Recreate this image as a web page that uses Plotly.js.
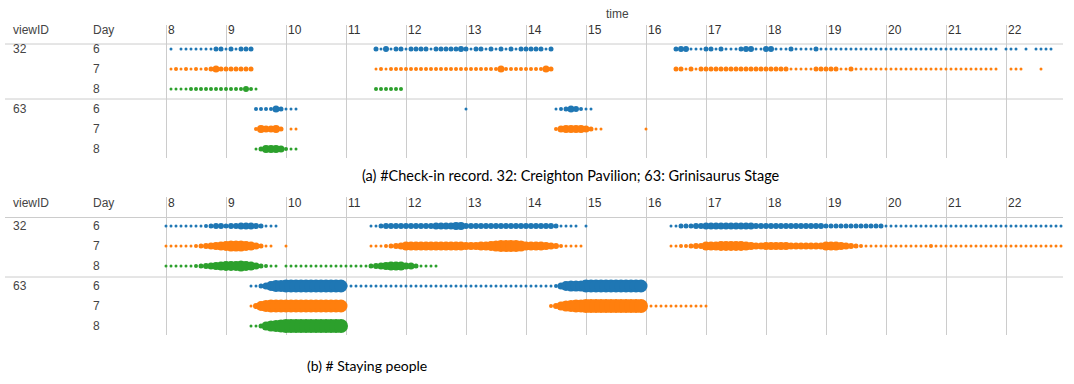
<!DOCTYPE html>
<html>
<head>
<meta charset="utf-8">
<script src="https://cdn.plot.ly/plotly-3.0.1.min.js"></script>
<style>html,body{margin:0;padding:0;background:#fff;}#chart{width:1074px;height:384px;}</style>
</head>
<body>
<div id="chart"></div>
<script>
// ---------- DATA ----------
// hour ticks
const hourTicks = [8,9,10,11,12,13,14,15,16,17,18,19,20,21,22];
const hourLabels = ['8','9','10','11','12','13','14','15','16','17','18','19','20','21','22'];
const viewIDs = ['32','63'];
const days = ['6','7','8'];
const dayColors = ['#1f77b4','#ff7f0e','#2ca02c'];

// Each segment: [start time, dot sizes for consecutive 5-minute bins (0 = no dot)]
// (a) #Check-in record
const a32d6 = [
  ['08:05',[3,0,3,3,3,3,3,3,3,5,5,3,5,3,5,5,5]],
  ['11:30',[5,3,6,3,5,5,3,5,5,5,5,3,5,5,5,5,5,6,5,3,5,5,3,5,3,5,3,5,3,5,5,5,5,5,3,5]],
  ['16:30',[5,6,6,3,3,3, 5,5,3,5,3,3,3,5,6,6,3,3, 6,6,3,3,3,5,3,3,3,3,5,3, 3,3,3,3,3,3,3,3,3,3,3,3, 3,3,3,3,3,3,3,3,3,3,3,3, 3,3,3,3,3,3,3,3,3,3,3,0, 3,3,3,0,3,0,3,3,3,3]]
];
const a32d7 = [
  ['08:05',[3,4,3,4,3,4,3,4,5,7,5,5,5,5,5,5,5]],
  ['11:30',[3,4,3,4,4,4,4,4,4,4,4,4,4,4,4,4,4,4,4,4,4,4,4,4,4,7,4,4,4,4,4,4,4,4,7,5]],
  ['16:30',[5,5,3,5,3,5, 5,5,5,5,5,5,5,5,5,5,5,5, 5,5,5,5,5,3,3,3,3,3,5,5, 5,5,5,3,3,5,3,3,3,3,3,3, 3,3,3,3,3,3,3,3,3,3,3,3, 3,3,3,3,3,3,3,3,3,3,3,0, 0,3,3,3,0,0,0,3]]
];
const a32d8 = [
  ['08:05',[3,3,3,3,4,4,4,4,4,4,4,4,4,4,4,6,4,3]],
  ['11:30',[4,4,4,4,4,4]]
];
const a63d6 = [
  ['09:30',[4,4,4,4,7,5,3,3,3]],
  ['13:00',[3]],
  ['14:30',[3,4,5,7,6,4,3,3]]
];
const a63d7 = [
  ['09:30',[4,8,7,7,8,5,0,3,3]],
  ['14:30',[4,7,8,8,8,8,7,5,3,3]],
  ['16:00',[3]]
];
const a63d8 = [
  ['09:30',[3,5,8,8,8,7,4,3,3]]
];

// (b) # Staying people
const b32d6 = [
  ['08:00',[3,3,3,3,3,3,3,3,4,5,6,6,5,6,6,7,7,7,6,5,3,3,3]],
  ['11:25',[3,3,5,6,6,6,6, 6,6,6,6,6,6,7,7,7,7,8,8, 6,6,6,6,6,6,6,6,6,6,6,6, 6,6,6,6,6,6,5,3,3,3,3,0, 3]],
  ['16:25',[3,3,5,5,5,6,6, 7,7,7,7,7,7,7,7,7,7,6,6, 6,6,6,6,6,6,6,6,6,6,6,6, 5,5,5,5,5,5,5,5,5,5,5,5, 3,3,3,3,3,3,3,3,3,3,3,3, 3,3,3,3,3,3,3,3,3,3,3,3, 3,3,3,3,3,3,3,3,3,3,3,3]]
];
const b32d7 = [
  ['08:00',[3,3,3,3,3,3,4,5,6,7,8,9,10,11,11,11,10,9,7,5,3,3,0,0,3]],
  ['11:25',[3,3,3,4,5,6,7, 9,9,9,9,9,9,9,9,9,9,9,9, 8,8,8,9,9,10,11,12,12,12,12,11, 9,9,9,9,8,7,6,4,3,3,3,3]],
  ['16:25',[3,3,4,4,5,6,6, 9,9,9,10,10,10,10,10,9,8,7,7, 8,8,8,8,8,7,7,7,7,7,7,7, 9,9,9,8,7,6,5,4,3,3,3,3, 3,3,3,3,3,3,3,3,3,4,3,3, 3,3,3,3,3,3,3,3,3,3,3,3, 3,3,3,3,3,3,3,3,3,3,3,3]]
];
const b32d8 = [
  ['08:00',[3,3,3,3,3,3,4,5,6,7,8,9, 10,10,10,11,10,9,7,5,4,3,3,0, 3,3,3,3,3,3,3,3,3,3,3,3, 3,3,3,3,3,5,6,7,8,9,9,9, 7,7,5,3,3,3,3]]
];
const b63d6 = [
  ['09:25',[3,3,5,7,10,12,12, 13,13,13,13,13,13,13,13,13,13,13,13, 3,3,3,3,3,3,3,3,3,3,3,3, 3,3,3,3,3,3,3,3,3,3,3,3, 3,3,3,3,3,3,3,3,3,3,3,3, 3,3,3,3,3,3,4,7,10,11,11,11, 13,13,13,13,13,13,13,13,13,13,13,13]]
];
const b63d7 = [
  ['09:25',[3,6,10,12,13,13,13, 13,13,13,13,13,13,13,13,13,13,13,13]],
  ['14:25',[4,6,9,11,12,13,13, 14,14,14,14,14,14,14,14,14,14,14,14, 0,3,3,3,3,3,3,3,3,3,3,3, 3]]
];
const b63d8 = [
  ['09:25',[3,3,5,9,11,12,13, 14,14,14,14,14,14,14,14,14,14,14,14]]
];

const panelA = [a32d6, a32d7, a32d8, a63d6, a63d7, a63d8];
const panelB = [b32d6, b32d7, b32d8, b63d6, b63d7, b63d8];

// ---------- BUILD ----------
function toH(s){const p=s.split(':').map(Number);return p[0]+p[1]/60;}
function build(segs){
  const x=[],s=[];
  segs.forEach(([st,arr])=>{const t0=toH(st);arr.forEach((v,i)=>{if(v>0){x.push(t0+i*5/60);s.push(v);}});});
  return {x,s};
}
const W=1074,H=384;
const font='"Liberation Sans", Arial, sans-serif';
const traces=[];
[[panelA,'x','y'],[panelB,'x2','y2']].forEach(([rows,xa,ya])=>{
  rows.forEach((segs,r)=>{
    const d=build(segs);
    traces.push({type:'scatter',mode:'markers',x:d.x,y:d.x.map(()=>r),xaxis:xa,yaxis:ya,
      marker:{size:d.s,color:dayColors[r%3],line:{width:0},opacity:1},hoverinfo:'skip',showlegend:false,cliponaxis:false});
  });
});

const xdom=[5/W,1063/W];
const xrange=[8-161/60,8+897/60];
function xax(anchor){return {domain:xdom,range:xrange,anchor:anchor,tickvals:hourTicks,showticklabels:false,ticks:'',
  showgrid:true,gridcolor:'#cccccc',gridwidth:1,zeroline:false,showline:false,fixedrange:true};}
function yax(dom,rng,anchor){return {domain:dom,range:rng,anchor:anchor,showgrid:false,zeroline:false,showticklabels:false,ticks:'',showline:false,fixedrange:true};}

const panels=[
  {xref:'x',yref:'y',header:-0.95,lines:[-0.25,2.5]},
  {xref:'x2',yref:'y2',header:-1.15,lines:[-0.425,2.55]}
];
const annotations=[];
const shapes=[];
panels.forEach((p,pi)=>{
  p.lines.forEach(yv=>shapes.push({type:'line',xref:'paper',x0:xdom[0],x1:xdom[1],yref:p.yref,y0:yv,y1:yv,line:{color:'#cccccc',width:1}}));
  hourTicks.forEach((h,i)=>annotations.push({xref:p.xref,yref:p.yref,x:h,y:p.header,text:hourLabels[i],showarrow:false,xanchor:'left',yanchor:'middle',xshift:0,font:{family:font,size:12,color:'#333'}}));
  annotations.push({xref:'paper',yref:p.yref,x:11/W,y:p.header,text:'viewID',showarrow:false,xanchor:'left',yanchor:'middle',font:{family:font,size:12,color:'#444'}});
  annotations.push({xref:'paper',yref:p.yref,x:91/W,y:p.header,text:'Day',showarrow:false,xanchor:'left',yanchor:'middle',font:{family:font,size:12,color:'#444'}});
  viewIDs.forEach((v,vi)=>annotations.push({xref:'paper',yref:p.yref,x:11/W,y:vi*3,text:v,showarrow:false,xanchor:'left',yanchor:'middle',font:{family:font,size:12,color:'#444'}}));
  for(let r=0;r<6;r++) annotations.push({xref:'paper',yref:p.yref,x:91/W,y:r,text:days[r%3],showarrow:false,xanchor:'left',yanchor:'middle',font:{family:font,size:12,color:'#444'}});
});
annotations.push({xref:'paper',yref:'paper',x:617/W,y:1-14/H,text:'time',showarrow:false,xanchor:'center',yanchor:'middle',font:{family:font,size:12,color:'#444'}});
annotations.push({xref:'paper',yref:'paper',x:571/W,y:1-176/H,text:'(a) #Check-in record. 32: Creighton Pavilion; 63: Grinisaurus Stage',showarrow:false,xanchor:'center',yanchor:'middle',font:{family:'Lato, "Open Sans", sans-serif',size:14.5,color:'#000'}});
annotations.push({xref:'paper',yref:'paper',x:367/W,y:1-365/H,text:'(b) # Staying people',showarrow:false,xanchor:'center',yanchor:'middle',font:{family:'Lato, "Open Sans", sans-serif',size:14,color:'#000'}});

const layout={width:W,height:H,margin:{l:0,r:0,t:0,b:0},paper_bgcolor:'#fff',plot_bgcolor:'#fff',showlegend:false,
  xaxis:xax('y'),xaxis2:xax('y2'),
  yaxis:yax([1-158/H,1-25/H],[5.45,-1.2],'x'),
  yaxis2:yax([1-335/H,1-197/H],[5.45,-1.45],'x2'),
  annotations:annotations,shapes:shapes,font:{family:font}};
Plotly.newPlot('chart',traces,layout,{displayModeBar:false,staticPlot:true});
</script>
</body>
</html>
